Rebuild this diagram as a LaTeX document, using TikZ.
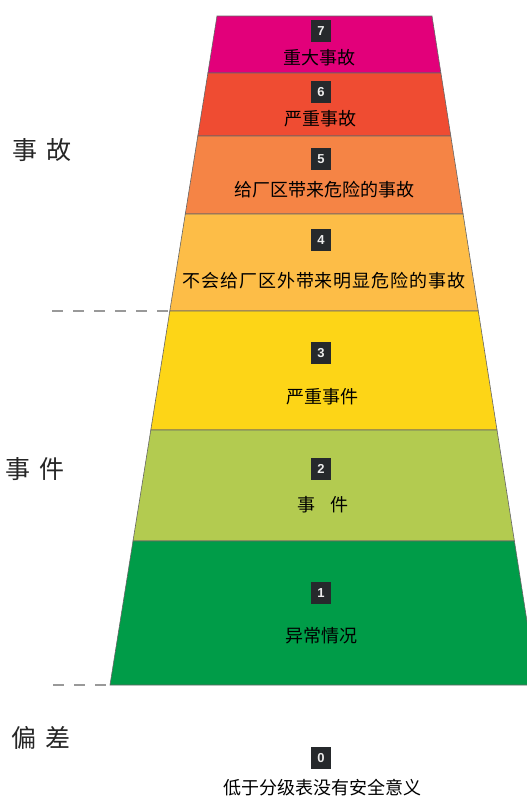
\documentclass[tikz,border=0pt]{standalone}
\usepackage{fontspec}
\setmainfont{Liberation Sans}
\newfontfamily\cjk{Noto Sans CJK SC}
\newfontfamily\cjkls{Noto Sans CJK SC}[LetterSpace=5]
\definecolor{c7}{HTML}{E2007A}
\definecolor{c6}{HTML}{EF4C32}
\definecolor{c5}{HTML}{F58445}
\definecolor{c4}{HTML}{FDBD47}
\definecolor{c3}{HTML}{FDD517}
\definecolor{c2}{HTML}{B3CB50}
\definecolor{c1}{HTML}{009C48}
\definecolor{boxgray}{HTML}{26292C}
\definecolor{dashgray}{HTML}{999999}
\begin{document}
\begin{tikzpicture}[x=1pt,y=-1pt,
  band/.style={draw=black!60, line width=0.6pt},
  numbox/.style={fill=boxgray, text=white!85!gray, minimum width=20pt, minimum height=22pt, inner sep=0pt, font=\fontsize{13}{13}\selectfont\bfseries},
  lbl/.style={font=\cjk\fontsize{18}{18}\selectfont, inner sep=0pt},
  side/.style={font=\cjk\fontsize{25}{25}\selectfont, text=black!85, inner sep=0pt},
  sep/.style={draw=dashgray, line width=2pt, dash pattern=on 11pt off 10pt}]
\useasboundingbox (0,0) rectangle (527,798);
\clip (0,0) rectangle (527,798);
\fill[white] (0,0) rectangle (527,798);
% trapezoid corners
\coordinate (l0) at (217,16);   \coordinate (r0) at (432,16);
\coordinate (l1) at (207.9,73); \coordinate (r1) at (440.9,73);
\coordinate (l2) at (197.8,136);\coordinate (r2) at (450.8,136);
\coordinate (l3) at (185.3,214);\coordinate (r3) at (463.1,214);
\coordinate (l4) at (169.8,311);\coordinate (r4) at (478.3,311);
\coordinate (l5) at (150.8,430);\coordinate (r5) at (497.0,430);
\coordinate (l6) at (133,541);  \coordinate (r6) at (514.4,541);
\coordinate (l7) at (110,685);  \coordinate (r7) at (537,685);
% bands
\path[band, fill=c7] (l0) -- (r0) -- (r1) -- (l1) -- cycle;
\path[band, fill=c6] (l1) -- (r1) -- (r2) -- (l2) -- cycle;
\path[band, fill=c5] (l2) -- (r2) -- (r3) -- (l3) -- cycle;
\path[band, fill=c4] (l3) -- (r3) -- (r4) -- (l4) -- cycle;
\path[band, fill=c3] (l4) -- (r4) -- (r5) -- (l5) -- cycle;
\path[band, fill=c2] (l5) -- (r5) -- (r6) -- (l6) -- cycle;
\path[band, fill=c1] (l6) -- (r6) -- (r7) -- (l7) -- cycle;
% dashed separators
\coordinate (d1) at (52,311);
\coordinate (d2) at (53,685);
\draw[sep] (d1) -- (l4);
\draw[sep] (d2) -- (l7);
% number boxes
\node[numbox] (n7) at (321,31)  {7};
\node[numbox] (n6) at (321,92)  {6};
\node[numbox] (n5) at (321,159) {5};
\node[numbox] (n4) at (321,240) {4};
\node[numbox] (n3) at (321,353) {3};
\node[numbox] (n2) at (321,469) {2};
\node[numbox] (n1) at (321,593) {1};
\node[numbox] (n0) at (321,758) {0};
% labels
\node[lbl] (t7) at (319,58)  {重大事故};
\node[lbl] (t6) at (320,119) {严重事故};
\node[lbl] (t5) at (324,190) {给厂区带来危险的事故};
\node[lbl, font=\cjkls\fontsize{18}{18}\selectfont] (t4) at (324,281) {不会给厂区外带来明显危险的事故};
\node[lbl] (t3) at (322,397) {严重事件};
\node[lbl] (t2) at (323,505) {事\hspace{16pt}件};
\node[lbl] (t1) at (321,636) {异常情况};
\node[lbl] (t0) at (322,788) {低于分级表没有安全意义};
% side labels
\node[side] (s1) at (42,150) {事\hspace{9pt}故};
\node[side] (s2) at (35,469) {事\hspace{9pt}件};
\node[side] (s3) at (41,738) {偏\hspace{9pt}差};
\end{tikzpicture}
\end{document}
